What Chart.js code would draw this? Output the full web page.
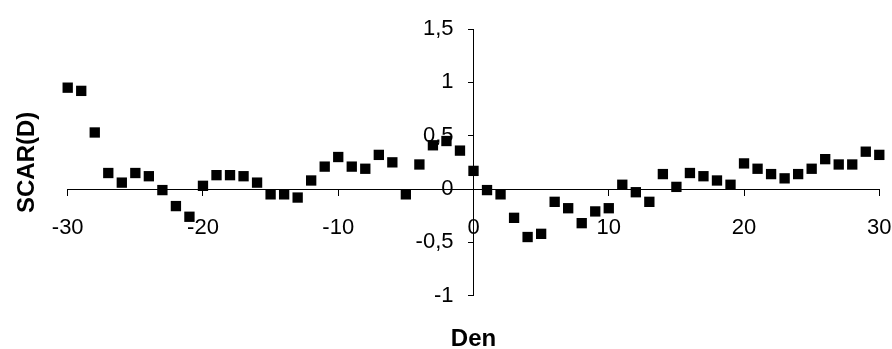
<!DOCTYPE html>
<html>
<head>
<meta charset="utf-8">
<script src="https://cdn.jsdelivr.net/npm/chart.js@4/dist/chart.umd.min.js"></script>
<style>
  html, body { margin: 0; padding: 0; background: #fff; }
  #wrap { width: 892px; height: 349px; }
</style>
</head>
<body>
<div id="wrap"><canvas id="c" width="892" height="349"></canvas></div>
<script>
// Event day (x) and SCAR(D) values (y)
const days = [-30,-29,-28,-27,-26,-25,-24,-23,-22,-21,-20,-19,-18,-17,-16,-15,-14,-13,-12,-11,-10,
  -9,-8,-7,-6,-5,-4,-3,-2,-1,0,1,2,3,4,5,6,7,8,9,10,11,12,13,14,15,16,17,18,19,20,
  21,22,23,24,25,26,27,28,29,30];
const scar = [0.95,0.92,0.53,0.15,0.06,0.15,0.12,-0.01,-0.16,-0.26,0.03,0.13,0.13,0.12,0.06,-0.05,-0.05,-0.08,0.08,0.21,0.30,
  0.21,0.19,0.32,0.25,-0.05,0.23,0.41,0.45,0.36,0.17,-0.01,-0.05,-0.27,-0.45,-0.42,-0.12,-0.18,-0.32,-0.21,-0.18,
  0.04,-0.03,-0.12,0.14,0.02,0.15,0.12,0.08,0.04,0.24,
  0.19,0.14,0.10,0.14,0.19,0.28,0.23,0.23,0.35,0.32];
const xTicks = [-30,-20,-10,0,10,20,30];
const yTicks = [-1,-0.5,0,0.5,1,1.5];
const xTitle = 'Den';
const yTitle = 'SCAR(D)';

const tickFont = { family: '"Liberation Sans", Arial, sans-serif', size: 22 };
const titleFont = { family: '"Liberation Sans", Arial, sans-serif', size: 24, weight: 'bold', lineHeight: 1 };
const noPad = s => { s.paddingLeft = 0; s.paddingRight = 0; s.paddingTop = 0; s.paddingBottom = 0; };

new Chart(document.getElementById('c'), {
  type: 'scatter',
  data: {
    datasets: [{
      data: days.map((d, i) => ({ x: d, y: scar[i] })),
      pointStyle: 'rect',
      pointRadius: 7.3,
      pointHoverRadius: 7.3,
      backgroundColor: '#000',
      borderColor: '#000',
      borderWidth: 0,
      clip: false
    }]
  },
  options: {
    responsive: false,
    animation: false,
    devicePixelRatio: 1,
    layout: { autoPadding: false, padding: { left: 5, right: 12.7, top: 29, bottom: 0 } },
    plugins: { legend: { display: false }, tooltip: { enabled: false } },
    scales: {
      x: {
        type: 'linear',
        position: { y: 0 },
        min: -30, max: 30,
        afterBuildTicks: s => { s.ticks = xTicks.map(v => ({ value: v })); },
        afterFit: noPad,
        ticks: { font: tickFont, color: '#000', padding: 20, maxRotation: 0, autoSkip: false,
                 callback: v => String(v) },
        grid: { display: true, drawOnChartArea: false, drawTicks: true, tickLength: 6, color: '#000', lineWidth: 1 },
        border: { display: true, color: '#000', width: 1 }
      },
      y: {
        type: 'linear',
        position: 'center',
        min: -1, max: 1.5,
        afterBuildTicks: s => { s.ticks = yTicks.map(v => ({ value: v })); },
        afterFit: noPad,
        ticks: { font: tickFont, color: '#000', padding: 15, autoSkip: false,
                 callback: v => String(v).replace('.', ',') },
        grid: { display: true, drawOnChartArea: false, drawTicks: true, tickLength: 5, color: '#000', lineWidth: 1 },
        border: { display: true, color: '#000', width: 1 }
      },
      yt: {
        type: 'linear', axis: 'y', position: 'left', min: 0, max: 1,
        ticks: { display: false },
        grid: { display: false, drawTicks: false },
        border: { display: false },
        title: { display: true, text: yTitle, font: titleFont, color: '#000', padding: { top: 10, bottom: 28.7 } }
      },
      xt: {
        type: 'linear', axis: 'x', position: 'bottom', min: 0, max: 1,
        ticks: { display: false },
        grid: { display: false, drawTicks: false },
        border: { display: false },
        title: { display: true, text: xTitle, font: titleFont, color: '#000', padding: { top: 31.8, bottom: -2.5 } }
      }
    }
  }
});
</script>
</body>
</html>
